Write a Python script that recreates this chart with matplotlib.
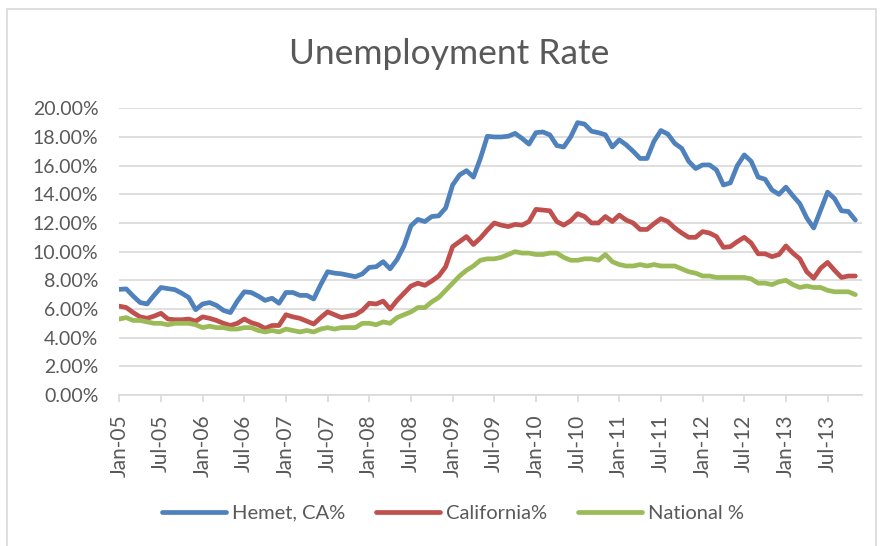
import numpy as np
import pandas as pd
import matplotlib
matplotlib.use('Agg')
import matplotlib.pyplot as plt
from matplotlib.patches import Rectangle

# monthly unemployment rate, Jan-2005 .. Nov-2013 (percent)
months = pd.date_range('2005-01-01', '2013-11-01', freq='MS')

hemet = [7.37, 7.4, 6.9, 6.45, 6.35, 6.95, 7.5, 7.42, 7.35, 7.1, 6.8, 5.95,
         6.35, 6.45, 6.25, 5.9, 5.75, 6.55, 7.2, 7.15, 6.9, 6.6, 6.75, 6.4,
         7.15, 7.15, 6.95, 6.95, 6.7, 7.7, 8.6, 8.5, 8.45, 8.35, 8.25, 8.45,
         8.9, 8.95, 9.3, 8.8, 9.45, 10.4, 11.8, 12.25, 12.1, 12.45, 12.5, 13.05,
         14.65, 15.35, 15.65, 15.2, 16.5, 18.05, 18.0, 18.0, 18.05, 18.25, 17.9, 17.5,
         18.3, 18.35, 18.15, 17.4, 17.3, 18.0, 19.0, 18.9, 18.4, 18.3, 18.15, 17.3,
         17.8, 17.45, 17.0, 16.5, 16.5, 17.7, 18.45, 18.2, 17.55, 17.2, 16.3, 15.8,
         16.05, 16.05, 15.7, 14.65, 14.8, 16.0, 16.75, 16.3, 15.2, 15.05, 14.3, 14.0,
         14.5, 13.9, 13.35, 12.35, 11.65, 12.9, 14.15, 13.7, 12.85, 12.8, 12.2]

california = [6.2, 6.1, 5.75, 5.45, 5.35, 5.5, 5.7, 5.3, 5.25, 5.25, 5.3, 5.15,
              5.45, 5.35, 5.2, 5.0, 4.85, 5.0, 5.3, 5.05, 4.9, 4.65, 4.85, 4.85,
              5.6, 5.45, 5.35, 5.15, 4.95, 5.4, 5.8, 5.6, 5.4, 5.5, 5.6, 5.9,
              6.4, 6.35, 6.55, 6.0, 6.6, 7.1, 7.6, 7.8, 7.65, 7.95, 8.3, 8.95,
              10.35, 10.7, 11.05, 10.5, 10.95, 11.5, 12.0, 11.85, 11.75, 11.9, 11.85, 12.1,
              12.95, 12.9, 12.85, 12.1, 11.85, 12.15, 12.65, 12.45, 12.0, 12.0, 12.45, 12.1,
              12.55, 12.2, 12.0, 11.55, 11.55, 11.95, 12.3, 12.1, 11.65, 11.3, 11.0, 11.0,
              11.4, 11.3, 11.05, 10.3, 10.35, 10.7, 11.0, 10.6, 9.85, 9.85, 9.65, 9.8,
              10.4, 9.9, 9.5, 8.6, 8.15, 8.85, 9.25, 8.7, 8.2, 8.3, 8.3]

national = [5.3, 5.4, 5.2, 5.2, 5.1, 5.0, 5.0, 4.9, 5.0, 5.0, 5.0, 4.9,
            4.7, 4.8, 4.7, 4.7, 4.6, 4.6, 4.7, 4.7, 4.5, 4.4, 4.5, 4.4,
            4.6, 4.5, 4.4, 4.5, 4.4, 4.6, 4.7, 4.6, 4.7, 4.7, 4.7, 5.0,
            5.0, 4.9, 5.1, 5.0, 5.4, 5.6, 5.8, 6.1, 6.1, 6.5, 6.8, 7.3,
            7.8, 8.3, 8.7, 9.0, 9.4, 9.5, 9.5, 9.6, 9.8, 10.0, 9.9, 9.9,
            9.8, 9.8, 9.9, 9.9, 9.6, 9.4, 9.4, 9.5, 9.5, 9.4, 9.8, 9.3,
            9.1, 9.0, 9.0, 9.1, 9.0, 9.1, 9.0, 9.0, 9.0, 8.8, 8.6, 8.5,
            8.3, 8.3, 8.2, 8.2, 8.2, 8.2, 8.2, 8.1, 7.8, 7.8, 7.7, 7.9,
            8.0, 7.7, 7.5, 7.6, 7.5, 7.5, 7.3, 7.2, 7.2, 7.2, 7.0]

series = [('Hemet, CA%', hemet, '#4F81BD'),
          ('California%', california, '#C0504D'),
          ('National %', national, '#9BBB59')]

font = 'Lato'
text_col = '#595959'
grid_col = '#d9d9d9'

fig = plt.figure(figsize=(8.8, 5.46), dpi=100)
ax = fig.add_axes([119.3 / 880, 1 - 395 / 546, (862.3 - 119.3) / 880, (395 - 108.3) / 546])

x = np.arange(len(months))
for name, vals, col in series:
    ax.plot(x, vals, color=col, lw=3.4, label=name, solid_capstyle='round',
            solid_joinstyle='round')

ax.set_ylim(0, 20)
ax.set_yticks(np.arange(0, 20.1, 2))
ax.set_yticklabels([f'{v:.2f}%' for v in np.arange(0, 20.1, 2)])
ax.set_xlim(0, 107)
tick_idx = np.arange(0, len(months), 6)
ax.set_xticks(tick_idx)
ax.set_xticklabels([months[i].strftime('%b-%y') for i in tick_idx], rotation=90)

ax.yaxis.grid(True, color=grid_col, lw=1.2)
ax.set_axisbelow(True)
for s in ['left', 'right', 'top']:
    ax.spines[s].set_visible(False)
ax.spines['bottom'].set_color(grid_col)
ax.spines['bottom'].set_linewidth(1.2)

ax.tick_params(axis='x', length=5, width=1.2, color=grid_col, pad=9,
               labelsize=15, labelcolor=text_col)
ax.tick_params(axis='y', length=0, pad=15, labelsize=14, labelcolor=text_col)
for lab in ax.get_xticklabels() + ax.get_yticklabels():
    lab.set_fontfamily(font)

fig.text(449 / 880, 1 - 54 / 546, 'Unemployment Rate', ha='center', va='center',
         fontsize=25.5, color=text_col, family=font)

leg = fig.legend(loc='center', bbox_to_anchor=(453 / 880, 1 - 513 / 546), ncol=3,
                 frameon=False, handlelength=3.2, handletextpad=0.3,
                 columnspacing=1.5, prop={'family': font, 'size': 14.5})
for t in leg.get_texts():
    t.set_color(text_col)

# chart area border
fig.patches.append(Rectangle((7 / 880, -0.02), (876 - 7) / 880, (546 - 9) / 546 + 0.02,
                             transform=fig.transFigure, fill=False,
                             ec=grid_col, lw=1.2))

fig.savefig('out.png', dpi=100)
